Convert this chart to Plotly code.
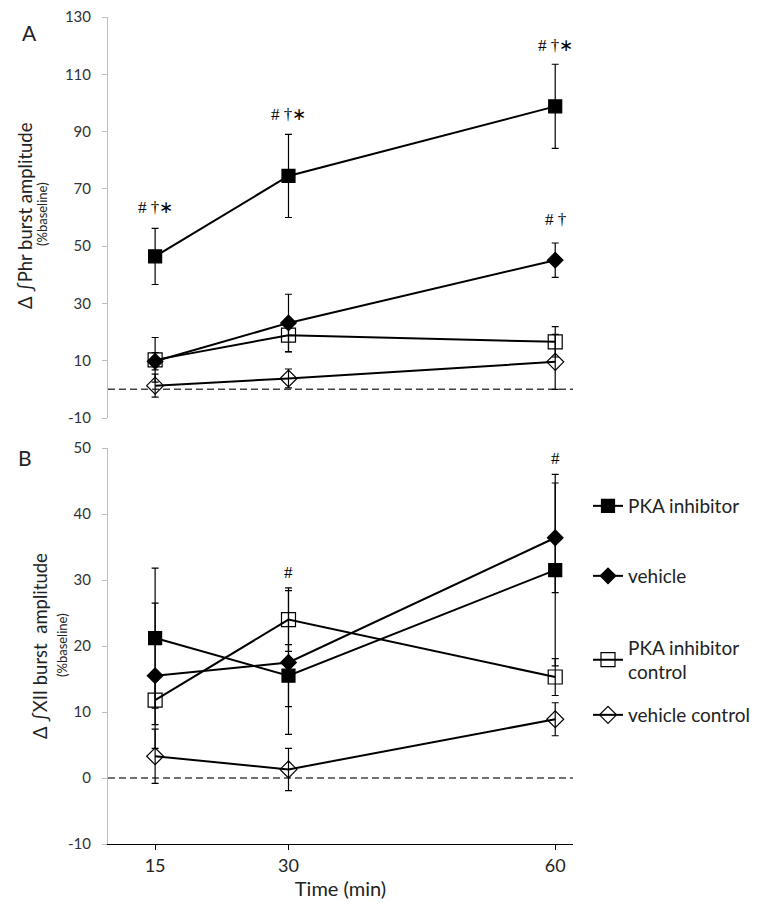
import plotly.graph_objects as go

# ---------------- data ----------------
time_min = [15, 30, 60]
time_labels = ["15", "30", "60"]

series_names = ["PKA inhibitor", "vehicle", "PKA inhibitor<br>control", "vehicle control"]

# Panel A : ∫Phr burst amplitude (% baseline)
pka_inh_A = [46.4, 74.5, 98.8]
pka_inh_A_err = [9.8, 14.5, 14.7]
vehicle_A = [9.8, 23.2, 45.1]
vehicle_A_err = [3.0, 10.0, 6.0]
pka_ctrl_A = [10.3, 18.9, 16.6]
pka_ctrl_A_err = [7.8, 5.8, 5.3]
veh_ctrl_A = [1.3, 3.8, 9.6]
veh_ctrl_A_err = [4.0, 3.3, 9.6]

# Panel B : ∫XII burst amplitude (% baseline)
pka_inh_B = [21.2, 15.5, 31.5]
pka_inh_B_err = [10.6, 4.7, 14.5]
vehicle_B = [15.5, 17.5, 36.4]
vehicle_B_err = [11.0, 10.9, 8.3]
pka_ctrl_B = [11.8, 24.0, 15.3]
pka_ctrl_B_err = [3.7, 4.8, 2.8]
veh_ctrl_B = [3.3, 1.3, 8.9]
veh_ctrl_B_err = [4.1, 3.2, 2.5]

# y tick values / labels
yA_ticks = [-10, 10, 30, 50, 70, 90, 110, 130]
yA_labels = ["-10", "10", "30", "50", "70", "90", "110", "130"]
yB_ticks = [-10, 0, 10, 20, 30, 40, 50]
yB_labels = ["-10", "0", "10", "20", "30", "40", "50"]

# significance marks: (time, y, text)
sig_A = [(15, 63.5, "# †∗"), (30, 96.0, "# †∗"), (60, 120.2, "# †∗"), (60, 59.2, "# †")]
sig_B = [(30, 31.1, "#"), (60, 48.4, "#")]

baseline = 0

# ---------------- geometry helpers (page offset compensation) ----------------
OFF = 8  # default body margin of the html page
W, H = 762, 907
TOP_PX, BOT_PX, LEFT_PX, RIGHT_PX = 17, 844, 108, 573
A_BOTTOM_PX, B_TOP_PX = 418, 448
L, R, T, B = LEFT_PX - OFF, W - RIGHT_PX + OFF, TOP_PX - OFF, H - BOT_PX + OFF
PW, PH = W - L - R, H - T - B


def px_x(px):
    return (px - OFF - L) / PW


def px_y(py):
    return (H - B - (py - OFF)) / PH


styles = [
    dict(symbol="square", size=13, color="black"),
    dict(symbol="diamond", size=12, color="black"),
    dict(symbol="square-open", size=14, color="black"),
    dict(symbol="diamond-open", size=13, color="black"),
]
legend_ids = ["legend", "legend2", "legend3", "legend4"]
legend_y_px = [506, 576, 660, 715]

FONT = "Lato, 'Open Sans', sans-serif"
fig = go.Figure()

A_vals = [(pka_inh_A, pka_inh_A_err), (vehicle_A, vehicle_A_err),
          (pka_ctrl_A, pka_ctrl_A_err), (veh_ctrl_A, veh_ctrl_A_err)]
B_vals = [(pka_inh_B, pka_inh_B_err), (vehicle_B, vehicle_B_err),
          (pka_ctrl_B, pka_ctrl_B_err), (veh_ctrl_B, veh_ctrl_B_err)]

for i, name in enumerate(series_names):
    st = styles[i]
    mk = dict(symbol=st["symbol"], size=st["size"], color=st["color"],
              line=dict(color="black", width=1.2))
    vals, errs = A_vals[i]
    fig.add_trace(go.Scatter(
        x=time_min, y=vals, mode="lines+markers", name=name,
        line=dict(color="black", width=2), marker=mk,
        error_y=dict(type="data", array=errs, color="black", thickness=1.2, width=3.5),
        xaxis="x2", yaxis="y2", showlegend=False))
    vals, errs = B_vals[i]
    fig.add_trace(go.Scatter(
        x=time_min, y=vals, mode="lines+markers", name=name,
        line=dict(color="black", width=2), marker=mk,
        error_y=dict(type="data", array=errs, color="black", thickness=1.2, width=3.5),
        xaxis="x", yaxis="y", showlegend=True, legend=legend_ids[i]))

# dashed baseline lines
for yref in ["y", "y2"]:
    xref = "x domain" if yref == "y" else "x2 domain"
    fig.add_shape(type="line", xref=xref, yref=yref, x0=0, x1=1, y0=baseline, y1=baseline,
                  line=dict(color="#444444", width=1.5, dash="7px,4px"), layer="below")

annotations = []
sig_font = dict(family="Liberation Serif, serif", size=17, color="black")
for (t, yv, txt) in sig_A:
    annotations.append(dict(x=t, y=yv, xref="x2", yref="y2", text=txt, showarrow=False,
                            xanchor="center", yanchor="middle", font=sig_font))
for (t, yv, txt) in sig_B:
    annotations.append(dict(x=t, y=yv, xref="x", yref="y", text=txt, showarrow=False,
                            xanchor="center", yanchor="middle", font=sig_font))


def label(px, py, text, size, angle=0):
    return dict(x=px_x(px), y=px_y(py), xref="paper", yref="paper", text=text,
                textangle=angle, showarrow=False, xanchor="center", yanchor="middle",
                font=dict(size=size, color="#222"))


annotations += [
    label(25, 216, "Δ ∫Phr burst amplitude", 18.5, -90),
    label(42, 214, "(%baseline)", 13, -90),
    label(40, 646, "Δ ∫XII burst  amplitude", 18.5, -90),
    label(62, 645, "(%baseline)", 13, -90),
    label(29, 32, "A", 21),
    label(25, 458, "B", 21),
]

yaxis_common = dict(showgrid=False, zeroline=False, showline=True, linecolor="#bfbfbf",
                    linewidth=1, ticks="outside", tickcolor="#bfbfbf", ticklen=5,
                    tickfont=dict(size=15, color="#333"), tickmode="array",
                    ticklabelstandoff=8, automargin=False, ticklabeloverflow="allow")

legends = {}
for lid, ly in zip(legend_ids, legend_y_px):
    legends[lid] = dict(x=px_x(588), y=px_y(ly), xanchor="left", yanchor="middle",
                        font=dict(size=19, color="#222"), itemwidth=30,
                        bgcolor="rgba(0,0,0,0)")

fig.update_layout(
    width=W, height=H,
    margin=dict(l=L, r=R, t=T, b=B, autoexpand=False),
    paper_bgcolor="white", plot_bgcolor="white",
    font=dict(family=FONT, color="#222"),
    xaxis=dict(domain=[0, 1], anchor="y", range=[9.7, 62], tickvals=time_min,
               ticktext=time_labels, showgrid=False, zeroline=False, showline=True,
               linecolor="black", linewidth=1.2, ticks="outside", tickcolor="black",
               ticklen=5, tickfont=dict(size=18, color="#222"), automargin=False,
               ticklabeloverflow="allow",
               title=dict(text="Time (min)", font=dict(size=20, color="#222"), standoff=4)),
    xaxis2=dict(domain=[0, 1], anchor="y2", matches="x", visible=False, automargin=False),
    yaxis=dict(domain=[0, px_y(B_TOP_PX)], anchor="x", range=[-10, 50],
               tickvals=yB_ticks, ticktext=yB_labels, **yaxis_common),
    yaxis2=dict(domain=[px_y(A_BOTTOM_PX), 1], anchor="x2", range=[-10, 130],
                tickvals=yA_ticks, ticktext=yA_labels, **yaxis_common),
    annotations=annotations,
    showlegend=True,
    **legends,
)

fig.write_html("out.html")
